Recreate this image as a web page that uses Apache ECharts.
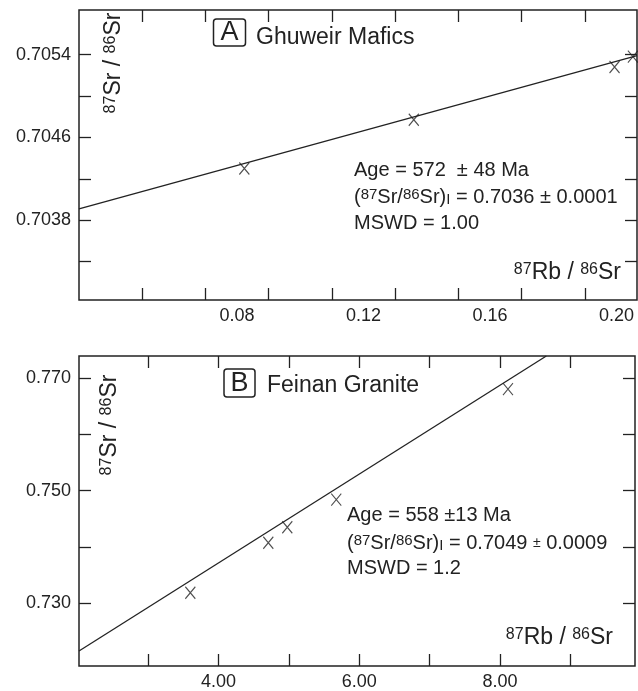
<!DOCTYPE html>
<html><head><meta charset="utf-8">
<script src="https://cdn.jsdelivr.net/npm/echarts@6/dist/echarts.min.js"></script>
<style>html,body{margin:0;padding:0;background:#fff}#c{width:638px;height:691px}</style>
</head><body><div id="c"></div>
<script>
// Panel A: Ghuweir Mafics
const ghuweirRb = [0.0823, 0.1359, 0.1994, 0.2052];
const ghuweirSr = [0.70430, 0.70477, 0.70528, 0.70538];
const ghuweirLineRb = [0.030, 0.2065];
const ghuweirLineSr = [0.70391, 0.70539];
const aXLabelValues = [0.08, 0.12, 0.16, 0.20];
const aXTickValues = [0.05, 0.07, 0.09, 0.11, 0.13, 0.15, 0.17, 0.19];
const aYLabelValues = [0.7038, 0.7046, 0.7054];
const aYTickValues = [0.7034, 0.7038, 0.7042, 0.7046, 0.7050, 0.7054];
// Panel B: Feinan Granite
const feinanRb = [3.598, 4.706, 4.976, 5.672, 8.112];
const feinanSr = [0.7319, 0.74076, 0.74352, 0.74842, 0.76802];
const feinanLineRb = [2.016, 8.657];
const feinanLineSr = [0.72157, 0.7739];
const bXLabelValues = [4, 6, 8];
const bXTickValues = [3, 4, 5, 6, 7, 8, 9];
const bYLabelValues = [0.730, 0.750, 0.770];
const bYTickValues = [0.730, 0.740, 0.750, 0.760, 0.770];

const INK = '#222';
const FONT = "'Liberation Sans', Arial, Helvetica, sans-serif";

function mkAxis(opts) {
  return {
    type: 'value', gridIndex: opts.grid, position: opts.position,
    min: opts.min, max: opts.max, scale: true,
    axisLine: { show: false },
    splitLine: { show: false },
    axisTick: { show: true, inside: true, length: 12, customValues: opts.ticks,
      lineStyle: { color: INK, width: 1.3 } },
    axisLabel: { show: !!opts.labels, customValues: opts.labels || opts.ticks,
      formatter: v => opts.fmt ? Number(v).toFixed(opts.fmt) : '',
      fontSize: 18, color: INK, fontFamily: FONT, margin: opts.margin || 8 }
  };
}

const chart = echarts.init(document.getElementById('c'), null, { renderer: 'canvas' });

const rich = {
  m: { fontSize: 20, fontFamily: FONT, color: INK },
  s: { fontSize: 15, fontFamily: FONT, color: INK, verticalAlign: 'top' },
  i: { fontSize: 15, fontFamily: FONT, color: INK, verticalAlign: 'bottom' },
  pm: { fontSize: 14, fontFamily: FONT, color: INK }
};
const titleRich = {
  m: { fontSize: 23, fontFamily: FONT, color: INK },
  s: { fontSize: 16, fontFamily: FONT, color: INK, verticalAlign: 'top' }
};

function txt(x, y, text, size, align, richObj, rotation) {
  const el = {
    type: 'text', x: x, y: y, silent: true,
    style: { text: text, fontSize: size, fontFamily: FONT, fill: INK,
      align: align || 'left', verticalAlign: 'middle' }
  };
  if (richObj) el.style.rich = richObj;
  if (rotation) el.rotation = rotation;
  return el;
}

const xMark = 'path://M0,0L10,12M10,0L0,12';

chart.setOption({
  animation: false,
  backgroundColor: '#fff',
  grid: [
    { left: 79, top: 10, width: 558, height: 290, show: true, borderColor: INK, borderWidth: 1.5 },
    { left: 79, top: 356, width: 556, height: 311, show: true, borderColor: INK, borderWidth: 1.5 }
  ],
  xAxis: [
    mkAxis({ grid: 0, position: 'bottom', min: 0.030, max: 0.2065, ticks: aXTickValues, labels: aXLabelValues, fmt: 2, margin: 7 }),
    mkAxis({ grid: 0, position: 'top', min: 0.030, max: 0.2065, ticks: aXTickValues }),
    mkAxis({ grid: 1, position: 'bottom', min: 2.016, max: 9.917, ticks: bXTickValues, labels: bXLabelValues, fmt: 2, margin: 7 }),
    mkAxis({ grid: 1, position: 'top', min: 2.016, max: 9.917, ticks: bXTickValues })
  ],
  yAxis: [
    mkAxis({ grid: 0, position: 'left', min: 0.70303, max: 0.70583, ticks: aYTickValues, labels: aYLabelValues, fmt: 4 }),
    mkAxis({ grid: 0, position: 'right', min: 0.70303, max: 0.70583, ticks: aYTickValues }),
    mkAxis({ grid: 1, position: 'left', min: 0.7189, max: 0.7739, ticks: bYTickValues, labels: bYLabelValues, fmt: 3 }),
    mkAxis({ grid: 1, position: 'right', min: 0.7189, max: 0.7739, ticks: bYTickValues })
  ],
  series: [
    { type: 'line', xAxisIndex: 0, yAxisIndex: 0, symbol: 'none', silent: true,
      data: ghuweirLineRb.map((x, i) => [x, ghuweirLineSr[i]]),
      lineStyle: { color: INK, width: 1.3 } },
    { type: 'scatter', xAxisIndex: 0, yAxisIndex: 0, symbol: xMark, symbolSize: [10, 12],
      data: ghuweirRb.map((x, i) => [x, ghuweirSr[i]]),
      itemStyle: { color: 'rgba(0,0,0,0)', borderColor: INK, borderWidth: 1.2 } },
    { type: 'line', xAxisIndex: 2, yAxisIndex: 2, symbol: 'none', silent: true,
      data: feinanLineRb.map((x, i) => [x, feinanLineSr[i]]),
      lineStyle: { color: INK, width: 1.3 } },
    { type: 'scatter', xAxisIndex: 2, yAxisIndex: 2, symbol: xMark, symbolSize: [10, 12],
      data: feinanRb.map((x, i) => [x, feinanSr[i]]),
      itemStyle: { color: 'rgba(0,0,0,0)', borderColor: INK, borderWidth: 1.2 } }
  ],
  graphic: [
    // Panel A
    { type: 'rect', shape: { x: 213.5, y: 19, width: 32, height: 27, r: 3 }, style: { fill: 'none', stroke: INK, lineWidth: 1.5 } },
    txt(229.5, 33, 'A', 27, 'center'),
    txt(256, 38, 'Ghuweir Mafics', 23),
    txt(114, 63, '{s|87}{m|Sr / }{s|86}{m|Sr}', 23, 'center', titleRich, Math.PI / 2),
    txt(621, 273, '{s|87}{m|Rb / }{s|86}{m|Sr}', 23, 'right', titleRich),
    txt(354, 170, 'Age = 572  \u00b1 48 Ma', 20),
    txt(354, 197, '{m|(}{s|87}{m|Sr/}{s|86}{m|Sr)}{i|I}{m| = 0.7036 \u00b1 0.0001}', 20, 'left', rich),
    txt(354, 223, 'MSWD = 1.00', 20),
    // Panel B
    { type: 'rect', shape: { x: 224, y: 369, width: 31, height: 28, r: 3 }, style: { fill: 'none', stroke: INK, lineWidth: 1.5 } },
    txt(239.5, 383.5, 'B', 27, 'center'),
    txt(267, 386, 'Feinan Granite', 23),
    txt(110, 425, '{s|87}{m|Sr / }{s|86}{m|Sr}', 23, 'center', titleRich, Math.PI / 2),
    txt(613, 638, '{s|87}{m|Rb / }{s|86}{m|Sr}', 23, 'right', titleRich),
    txt(347, 515, 'Age = 558 \u00b113 Ma', 20),
    txt(347, 543, '{m|(}{s|87}{m|Sr/}{s|86}{m|Sr)}{i|I}{m| = 0.7049 }{pm|\u00b1}{m| 0.0009}', 20, 'left', rich),
    txt(347, 568, 'MSWD = 1.2', 20)
  ]
});
</script>
</body></html>
